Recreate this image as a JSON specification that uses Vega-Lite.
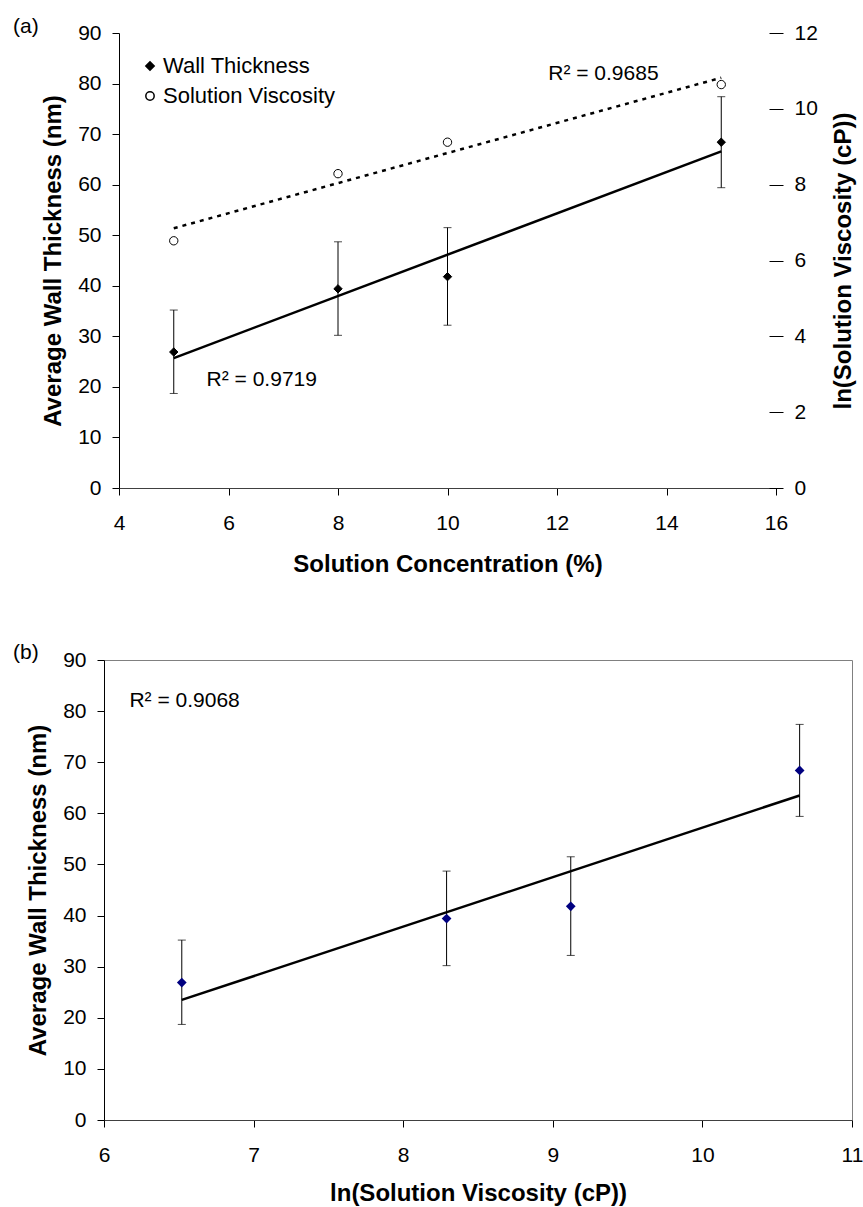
{
  "$schema": "https://vega.github.io/schema/vega-lite/v6.json",
  "background": "white",
  "padding": {"left": 12, "top": 16, "right": 0, "bottom": 0},
  "config": {
    "font": "Liberation Sans",
    "view": {"stroke": "#808080", "strokeWidth": 1},
    "axis": {
      "labelFont": "Liberation Sans", "labelFontSize": 21, "labelColor": "black",
      "titleFont": "Liberation Sans", "titleFontSize": 24, "titleFontWeight": "bold", "titleColor": "black",
      "grid": false, "tickColor": "black", "domainColor": "black", "tickSize": 7, "labelPadding": 11,
      "titleLimit": 1000, "labelFlush": false, "format": "d"
    }
  },
  "datasets": {
    "wall": [
      {"conc": 5, "thick": 26.9, "lo": 18.7, "hi": 35.2, "lnv": 6.52, "series": "Wall Thickness"},
      {"conc": 8, "thick": 39.4, "lo": 30.2, "hi": 48.7, "lnv": 8.29, "series": "Wall Thickness"},
      {"conc": 10, "thick": 41.8, "lo": 32.2, "hi": 51.5, "lnv": 9.12, "series": "Wall Thickness"},
      {"conc": 15, "thick": 68.4, "lo": 59.4, "hi": 77.4, "lnv": 10.65, "series": "Wall Thickness"}
    ],
    "visc": [
      {"conc": 5, "lnv": 6.52, "series": "Solution Viscosity"},
      {"conc": 8, "lnv": 8.29, "series": "Solution Viscosity"},
      {"conc": 10, "lnv": 9.12, "series": "Solution Viscosity"},
      {"conc": 15, "lnv": 10.64, "series": "Solution Viscosity"}
    ],
    "trendA": [{"conc": 5, "y": 25.7}, {"conc": 15, "y": 66.6}],
    "trendV": [{"conc": 5, "v": 6.85}, {"conc": 15, "v": 10.82}],
    "trendB": [{"lnv": 6.52, "y": 23.5}, {"lnv": 10.65, "y": 63.5}],
    "labA": [{"x": 5.6, "y": 21.4, "t": "R² = 0.9719"}, {"x": 11.84, "y": 81.9, "t": "R² = 0.9685"}],
    "labB": [{"x": 6.17, "y": 81.9, "t": "R² = 0.9068"}]
  },
  "vconcat": [
    {
      "width": 672, "height": 455,
      "view": {"stroke": null},
      "title": {"text": "(a)", "anchor": "start", "frame": "group", "dx": -91, "dy": 26, "offset": 0, "fontSize": 21, "fontWeight": "normal", "baseline": "middle", "font": "Liberation Sans", "color": "black"},
      "layer": [
        {
          "layer": [
            {
              "mark": {"type": "rule", "color": "#808080", "strokeWidth": 1},
              "encoding": {
                "x": {"datum": 4, "type": "quantitative", "title": "Solution Concentration (%)", "scale": {"domain": [4, 16], "range": [15, 672]}},
                "x2": {"datum": 16},
                "y": {"datum": 90, "type": "quantitative", "title": "Average Wall Thickness (nm)", "scale": {"domain": [0, 90]}}
              }
            },
            {
              "data": {"name": "wall"},
              "mark": {"type": "rule", "color": "black", "strokeWidth": 1},
              "encoding": {
                "x": {"field": "conc", "type": "quantitative", "title": "Solution Concentration (%)", "scale": {"domain": [4, 16], "range": [15, 672]}},
                "y": {"field": "lo", "type": "quantitative", "title": "Average Wall Thickness (nm)", "scale": {"domain": [0, 90]}},
                "y2": {"field": "hi"}
              }
            },
            {
              "data": {"name": "wall"},
              "mark": {"type": "tick", "orient": "horizontal", "size": 8, "thickness": 1, "color": "black"},
              "encoding": {
                "x": {"field": "conc", "type": "quantitative", "title": "Solution Concentration (%)", "scale": {"domain": [4, 16], "range": [15, 672]}},
                "y": {"field": "lo", "type": "quantitative", "title": "Average Wall Thickness (nm)", "scale": {"domain": [0, 90]}}
              }
            },
            {
              "data": {"name": "wall"},
              "mark": {"type": "tick", "orient": "horizontal", "size": 8, "thickness": 1, "color": "black"},
              "encoding": {
                "x": {"field": "conc", "type": "quantitative", "title": "Solution Concentration (%)", "scale": {"domain": [4, 16], "range": [15, 672]}},
                "y": {"field": "hi", "type": "quantitative", "title": "Average Wall Thickness (nm)", "scale": {"domain": [0, 90]}}
              }
            },
            {
              "data": {"name": "trendA"},
              "mark": {"type": "line", "color": "black", "strokeWidth": 2.5},
              "encoding": {
                "x": {"field": "conc", "type": "quantitative", "title": "Solution Concentration (%)", "scale": {"domain": [4, 16], "range": [15, 672]}},
                "y": {"field": "y", "type": "quantitative", "title": "Average Wall Thickness (nm)", "scale": {"domain": [0, 90]}}
              }
            },
            {
              "data": {"name": "wall"},
              "mark": {"type": "point", "filled": true, "size": 70, "stroke": "black", "strokeWidth": 1, "opacity": 1},
              "encoding": {
                "x": {"field": "conc", "type": "quantitative", "title": "Solution Concentration (%)", "scale": {"domain": [4, 16], "range": [15, 672]},
                      "axis": {"values": [4, 6, 8, 10, 12, 14, 16], "domainColor": "#404040", "labelPadding": 17, "titlePadding": 19}},
                "y": {"field": "thick", "type": "quantitative", "title": "Average Wall Thickness (nm)", "scale": {"domain": [0, 90]},
                      "axis": {"values": [0, 10, 20, 30, 40, 50, 60, 70, 80, 90], "titlePadding": 12, "offset": -15}},
                "shape": {"field": "series", "type": "nominal", "scale": {"domain": ["Wall Thickness", "Solution Viscosity"], "range": ["diamond", "circle"]},
                          "legend": {"title": null, "orient": "none", "legendX": 35, "legendY": 22, "labelFontSize": 22, "labelFont": "Liberation Sans", "labelColor": "black", "labelLimit": 400, "symbolSize": 70, "labelOffset": 2, "rowPadding": 8, "padding": 0,
                                     "encode": {"symbols": {"update": {"stroke": {"value": "black"}, "strokeWidth": {"value": 1}}}}}},
                "fill": {"field": "series", "type": "nominal", "scale": {"domain": ["Wall Thickness", "Solution Viscosity"], "range": ["black", "white"]},
                          "legend": {"title": null, "orient": "none", "legendX": 35, "legendY": 22, "labelFontSize": 22, "labelFont": "Liberation Sans", "labelColor": "black", "labelLimit": 400, "symbolSize": 70, "labelOffset": 2, "rowPadding": 8, "padding": 0,
                                     "encode": {"symbols": {"update": {"stroke": {"value": "black"}, "strokeWidth": {"value": 1}}}}}}
              }
            },
            {
              "data": {"name": "labA"},
              "mark": {"type": "text", "align": "left", "baseline": "middle", "fontSize": 21, "font": "Liberation Sans", "color": "black"},
              "encoding": {
                "x": {"field": "x", "type": "quantitative", "title": "Solution Concentration (%)", "scale": {"domain": [4, 16], "range": [15, 672]}},
                "y": {"field": "y", "type": "quantitative", "title": "Average Wall Thickness (nm)", "scale": {"domain": [0, 90]}},
                "text": {"field": "t"}
              }
            },
            {
              "mark": {"type": "rule", "color": "black", "strokeWidth": 1},
              "encoding": {
                "x": {"datum": 16, "type": "quantitative", "title": "Solution Concentration (%)", "scale": {"domain": [4, 16], "range": [15, 672]}}
              }
            }
          ]
        },
        {
          "layer": [
            {
              "data": {"name": "trendV"},
              "mark": {"type": "line", "color": "black", "strokeWidth": 2.5, "strokeDash": [4, 5]},
              "encoding": {
                "x": {"field": "conc", "type": "quantitative", "title": "Solution Concentration (%)", "scale": {"domain": [4, 16], "range": [15, 672]}},
                "y": {"field": "v", "type": "quantitative", "title": "ln(Solution Viscosity (cP))", "scale": {"domain": [0, 12]}}
              }
            },
            {
              "data": {"name": "visc"},
              "mark": {"type": "point", "filled": true, "size": 70, "stroke": "black", "strokeWidth": 1, "opacity": 1},
              "encoding": {
                "x": {"field": "conc", "type": "quantitative", "title": "Solution Concentration (%)", "scale": {"domain": [4, 16], "range": [15, 672]}},
                "y": {"field": "lnv", "type": "quantitative", "title": "ln(Solution Viscosity (cP))", "scale": {"domain": [0, 12]},
                      "axis": {"orient": "right", "values": [0, 2, 4, 6, 8, 10, 12], "offset": -7, "tickSize": 14, "domain": false, "labelPadding": 11, "titleAngle": 270, "titleBaseline": "top", "titlePadding": 14}},
                "shape": {"field": "series", "type": "nominal", "scale": {"domain": ["Wall Thickness", "Solution Viscosity"], "range": ["diamond", "circle"]},
                          "legend": {"title": null, "orient": "none", "legendX": 35, "legendY": 22, "labelFontSize": 22, "labelFont": "Liberation Sans", "labelColor": "black", "labelLimit": 400, "symbolSize": 70, "labelOffset": 2, "rowPadding": 8, "padding": 0,
                                     "encode": {"symbols": {"update": {"stroke": {"value": "black"}, "strokeWidth": {"value": 1}}}}}},
                "fill": {"field": "series", "type": "nominal", "scale": {"domain": ["Wall Thickness", "Solution Viscosity"], "range": ["black", "white"]},
                          "legend": {"title": null, "orient": "none", "legendX": 35, "legendY": 22, "labelFontSize": 22, "labelFont": "Liberation Sans", "labelColor": "black", "labelLimit": 400, "symbolSize": 70, "labelOffset": 2, "rowPadding": 8, "padding": 0,
                                     "encode": {"symbols": {"update": {"stroke": {"value": "black"}, "strokeWidth": {"value": 1}}}}}}
              }
            }
          ]
        }
      ],
      "resolve": {"scale": {"y": "independent"}, "axis": {"y": "independent"}}
    },
    {
      "width": 748, "height": 460,
      "title": {"text": "(b)", "anchor": "start", "frame": "group", "dx": -91, "dy": 25, "offset": 0, "fontSize": 21, "fontWeight": "normal", "baseline": "middle", "font": "Liberation Sans", "color": "black"},
      "layer": [
        {
          "data": {"name": "wall"},
          "mark": {"type": "rule", "color": "black", "strokeWidth": 1},
          "encoding": {
            "x": {"field": "lnv", "type": "quantitative", "title": "ln(Solution Viscosity (cP))", "scale": {"domain": [6, 11]}},
            "y": {"field": "lo", "type": "quantitative", "title": "Average Wall Thickness (nm)", "scale": {"domain": [0, 90]}},
            "y2": {"field": "hi"}
          }
        },
        {
          "data": {"name": "wall"},
          "mark": {"type": "tick", "orient": "horizontal", "size": 8, "thickness": 1, "color": "black"},
          "encoding": {
            "x": {"field": "lnv", "type": "quantitative", "title": "ln(Solution Viscosity (cP))", "scale": {"domain": [6, 11]}},
            "y": {"field": "lo", "type": "quantitative", "title": "Average Wall Thickness (nm)", "scale": {"domain": [0, 90]}}
          }
        },
        {
          "data": {"name": "wall"},
          "mark": {"type": "tick", "orient": "horizontal", "size": 8, "thickness": 1, "color": "black"},
          "encoding": {
            "x": {"field": "lnv", "type": "quantitative", "title": "ln(Solution Viscosity (cP))", "scale": {"domain": [6, 11]}},
            "y": {"field": "hi", "type": "quantitative", "title": "Average Wall Thickness (nm)", "scale": {"domain": [0, 90]}}
          }
        },
        {
          "data": {"name": "trendB"},
          "mark": {"type": "line", "color": "black", "strokeWidth": 2.5},
          "encoding": {
            "x": {"field": "lnv", "type": "quantitative", "title": "ln(Solution Viscosity (cP))", "scale": {"domain": [6, 11]}},
            "y": {"field": "y", "type": "quantitative", "title": "Average Wall Thickness (nm)", "scale": {"domain": [0, 90]}}
          }
        },
        {
          "data": {"name": "wall"},
          "mark": {"type": "point", "shape": "diamond", "filled": true, "size": 95, "color": "#000080", "opacity": 1},
          "encoding": {
            "x": {"field": "lnv", "type": "quantitative", "title": "ln(Solution Viscosity (cP))", "scale": {"domain": [6, 11]},
                  "axis": {"values": [6, 7, 8, 9, 10, 11], "domainColor": "#404040", "labelPadding": 17, "titlePadding": 16}},
            "y": {"field": "thick", "type": "quantitative", "title": "Average Wall Thickness (nm)", "scale": {"domain": [0, 90]},
                  "axis": {"values": [0, 10, 20, 30, 40, 50, 60, 70, 80, 90], "titlePadding": 12}}
          }
        },
        {
          "data": {"name": "labB"},
          "mark": {"type": "text", "align": "left", "baseline": "middle", "fontSize": 21, "font": "Liberation Sans", "color": "black"},
          "encoding": {
            "x": {"field": "x", "type": "quantitative", "title": "ln(Solution Viscosity (cP))", "scale": {"domain": [6, 11]}},
            "y": {"field": "y", "type": "quantitative", "title": "Average Wall Thickness (nm)", "scale": {"domain": [0, 90]}},
            "text": {"field": "t"}
          }
        }
      ]
    }
  ],
  "spacing": 65
}
